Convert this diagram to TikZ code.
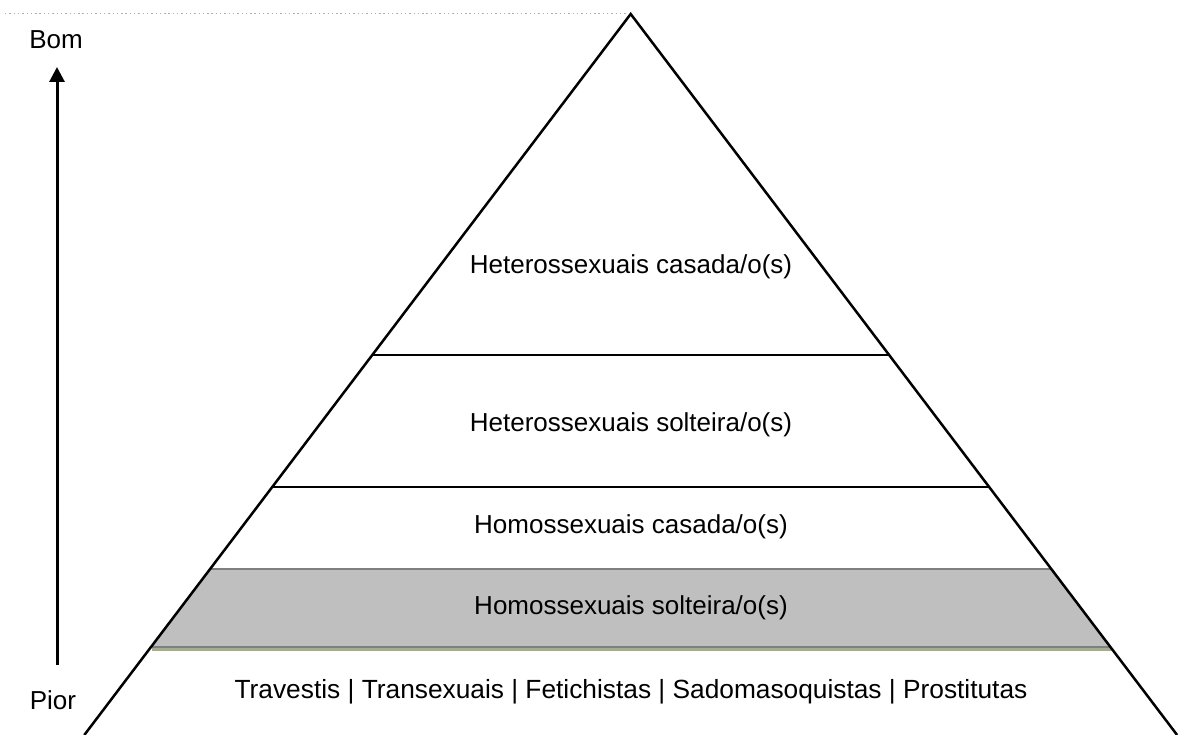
\documentclass[tikz,border=0pt]{standalone}
\usepackage{fontspec}
\setmainfont{Liberation Sans}
\usetikzlibrary{arrows.meta,calc}
\definecolor{bandfill}{HTML}{BFBFBF}
\definecolor{bandedge}{HTML}{7F7F7F}
\definecolor{bandshadow}{HTML}{A3AE8C}
\definecolor{dotline}{HTML}{B0B0B0}
\begin{document}
\begin{tikzpicture}[x=1pt,y=-1pt,
  lbl/.style={font=\fontsize{26}{30}\selectfont, inner sep=0pt, anchor=center},
  wide/.style={font=\fontsize{26.3}{30}\selectfont, inner sep=0pt, anchor=center},
  side/.style={font=\fontsize{26}{30}\selectfont, inner sep=0pt, anchor=center},
  pyr/.style={draw=black, line width=2.5pt, line join=miter},
  level/.style={draw=black, line width=1.6pt},
  bandtop/.style={draw=bandedge, line width=2.6pt},
  scaleline/.style={draw=black, line width=3pt, -{Triangle[width=15pt,length=15pt]}}]
\useasboundingbox (0,0) rectangle (1183,735);
% pyramid corners
\coordinate (apex) at (630.7,14);
\coordinate (bl) at (84.3,735);
\coordinate (br) at (1177.1,735);
% level points
\coordinate (l1) at ($(apex)!0.4730!(bl)$);
\coordinate (r1) at ($(apex)!0.4730!(br)$);
\coordinate (l2) at ($(apex)!0.6560!(bl)$);
\coordinate (r2) at ($(apex)!0.6560!(br)$);
\coordinate (l3) at ($(apex)!0.7698!(bl)$);
\coordinate (r3) at ($(apex)!0.7698!(br)$);
\coordinate (l4) at ($(apex)!0.8780!(bl)$);
\coordinate (r4) at ($(apex)!0.8780!(br)$);
% grey band
\fill[bandfill] (l3) -- (r3) -- (r4) -- (l4) -- cycle;
\draw[bandshadow, line width=2.6pt] ($(l4)+(1,2.6)$) -- ($(r4)+(2,2.6)$);
\draw[bandtop] (l3) -- (r3);
\draw[bandtop] (l4) -- ($(r4)+(1,0)$);
% level lines
\draw[level] (l1) -- (r1);
\draw[level] (l2) -- (r2);
% pyramid outline
\draw[pyr] (bl) -- (apex) -- (br);
% dotted top line
\coordinate (dotstart) at (5,13.5);
\coordinate (dotend) at (628,13.5);
\draw[dotline, line width=1pt, dash pattern=on 1.4pt off 2.9pt] (dotstart) -- (dotend);
% labels
\node[lbl] (hetcas) at (631,267) {Heterossexuais casada/o(s)};
\node[lbl] (hetsol) at (631,425) {Heterossexuais solteira/o(s)};
\node[lbl] (homcas) at (631,527) {Homossexuais casada/o(s)};
\node[lbl] (homsol) at (631,608) {Homossexuais solteira/o(s)};
\node[wide] (bottom) at (631,692) {Travestis | Transexuais | Fetichistas | Sadomasoquistas | Prostitutas};
% scale
\node[side] (bom) at (56,40) {Bom};
\node[side] (pior) at (53,700) {Pior};
\coordinate (arrbot) at (57,665);
\coordinate (arrtop) at (57,67);
\draw[scaleline] (arrbot) -- (arrtop);
\end{tikzpicture}
\end{document}
